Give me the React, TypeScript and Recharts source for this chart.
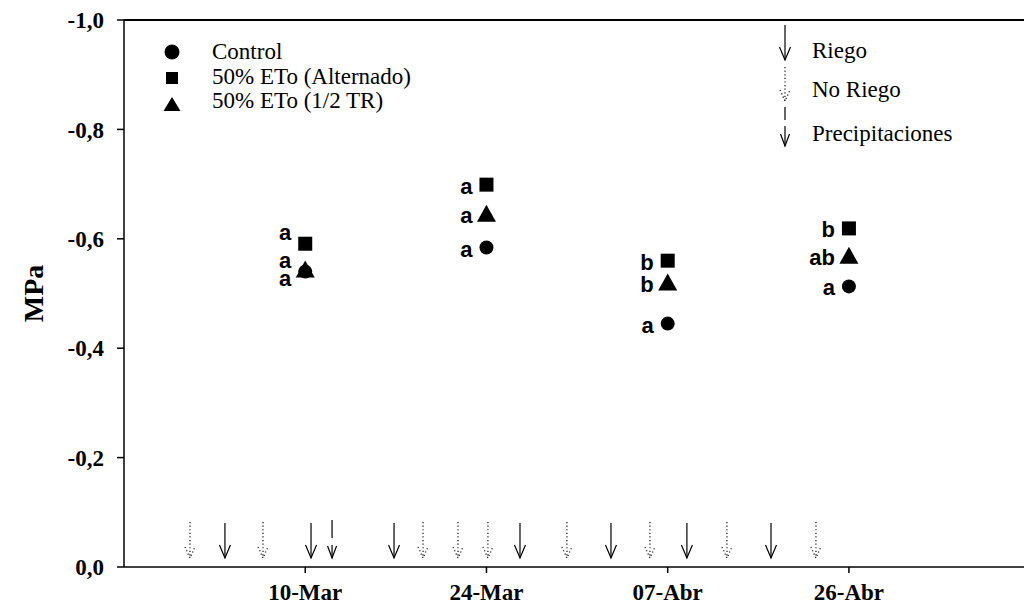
import { Legend, ReferenceLine, Scatter, ScatterChart, XAxis, YAxis } from 'recharts';

// fechas de muestreo (posición en el eje X)
const dates = ['10-Mar', '24-Mar', '07-Abr', '26-Abr'];
const datePos = [1, 2, 3, 4];

// potencial hídrico (MPa) por tratamiento
const control = [-0.54, -0.584, -0.445, -0.513];
const alternado = [-0.591, -0.699, -0.56, -0.619];
const halfTR = [-0.544, -0.646, -0.52, -0.569];

// letras de significancia
const controlLetters = ['a', 'a', 'a', 'a'];
const alternadoLetters = ['a', 'a', 'b', 'b'];
const halfTRLetters = ['a', 'a', 'b', 'ab'];

// eventos (flechas) sobre el eje X
const riegoPos = [0.557, 1.032, 1.49, 2.185, 2.687, 3.106, 3.57];
const noRiegoPos = [0.364, 0.767, 1.65, 1.843, 2.008, 2.444, 2.902, 3.327, 3.818];
const precipPos = [1.148];

const yTicks = [-1, -0.8, -0.6, -0.4, -0.2, 0];

// ajuste vertical de letras en la primera fecha (se superponen)
const LABEL_NUDGE: Record<string, number[]> = {
  control: [5, 0, 0, 0],
  alternado: [-13, 0, 0, 0],
  halfTR: [-10, 0, 0, 0],
};

const ARROW_Y = -0.0165;
const SERIF = "'Liberation Serif', 'Times New Roman', serif";
const SANS = "'Liberation Sans', Arial, sans-serif";

const build = (vals: number[], letters: string[], key: string) =>
  vals.map((y, i) => ({ x: datePos[i], y, letter: letters[i], nudge: LABEL_NUDGE[key][i] }));

const controlData = build(control, controlLetters, 'control');
const alternadoData = build(alternado, alternadoLetters, 'alternado');
const halfTRData = build(halfTR, halfTRLetters, 'halfTR');

const arrows = (pos: number[]) => pos.map((x) => ({ x, y: ARROW_Y }));

function Letter({ cx, cy, text, nudge }: any) {
  return (
    <text x={cx - 14} y={cy + 9 + nudge} textAnchor="end" fontFamily={SANS} fontWeight="bold" fontSize={22} fill="#000">
      {text}
    </text>
  );
}

function circleShape(props: any) {
  const { cx, cy, payload } = props;
  return (
    <g>
      <circle cx={cx} cy={cy} r={7} fill="#000" />
      <Letter cx={cx} cy={cy} text={payload.letter} nudge={payload.nudge} />
    </g>
  );
}

function squareShape(props: any) {
  const { cx, cy, payload } = props;
  return (
    <g>
      <rect x={cx - 7} y={cy - 7} width={14} height={14} fill="#000" />
      <Letter cx={cx} cy={cy} text={payload.letter} nudge={payload.nudge} />
    </g>
  );
}

function triangleShape(props: any) {
  const { cx, cy, payload } = props;
  return (
    <g>
      <polygon points={`${cx},${cy - 9} ${cx - 9.5},${cy + 8} ${cx + 9.5},${cy + 8}`} fill="#000" />
      <Letter cx={cx} cy={cy} text={payload.letter} nudge={payload.nudge} />
    </g>
  );
}

function SolidArrow({ cx, cy, len = 35 }: any) {
  return (
    <g stroke="#000" strokeWidth={1.2} fill="none">
      <line x1={cx} y1={cy - len} x2={cx} y2={cy} />
      <polyline points={`${cx - 5.5},${cy - 13} ${cx},${cy} ${cx + 5.5},${cy - 13}`} />
    </g>
  );
}

function DottedArrow({ cx, cy, len = 36 }: any) {
  return (
    <g stroke="#222" strokeWidth={1.3} fill="none" strokeDasharray="1.2 2.4">
      <line x1={cx} y1={cy - len} x2={cx} y2={cy} />
      <polyline points={`${cx - 5},${cy - 11} ${cx},${cy} ${cx + 5},${cy - 11}`} />
    </g>
  );
}

function DashedArrow({ cx, cy }: any) {
  return (
    <g stroke="#000" strokeWidth={1.2} fill="none">
      <line x1={cx} y1={cy - 38} x2={cx} y2={cy - 20} />
      <line x1={cx} y1={cy - 13} x2={cx} y2={cy} />
      <polyline points={`${cx - 4.5},${cy - 12} ${cx},${cy} ${cx + 4.5},${cy - 12}`} />
    </g>
  );
}

function LegendBox() {
  const txt = { fontFamily: SERIF, fontSize: 23, fill: '#000' };
  return (
    <svg width={1024} height={160} style={{ display: 'block' }}>
      <circle cx={172} cy={52} r={7.5} fill="#000" />
      <text x={212} y={59} {...txt}>Control</text>
      <rect x={166} y={72} width={12} height={12} fill="#000" />
      <text x={212} y={84} {...txt}>50% ETo (Alternado)</text>
      <polygon points="172,97 163.5,111 180.5,111" fill="#000" />
      <text x={212} y={108} {...txt}>50% ETo (1/2 TR)</text>

      <SolidArrow cx={785} cy={60} len={35} />
      <text x={812} y={58} {...txt}>Riego</text>
      <DottedArrow cx={785} cy={101} len={34} />
      <text x={812} y={97} {...txt}>No Riego</text>
      <g stroke="#000" strokeWidth={1.2} fill="none">
        <line x1={785} y1={107} x2={785} y2={120} />
        <line x1={785} y1={126} x2={785} y2={146} />
        <polyline points="780.5,134 785,146 789.5,134" />
      </g>
      <text x={812} y={141} {...txt}>Precipitaciones</text>
    </svg>
  );
}

const tickStyle = { fontFamily: SERIF, fontWeight: 'bold', fontSize: 23, fill: '#000' };

export default function App() {
  return (
    <div style={{ position: 'absolute', left: 0, top: 0, width: 1024, height: 616, background: '#fff' }}>
      <ScatterChart width={1024} height={616} margin={{ top: 20, right: 0, bottom: 9, left: 0 }}>
        <XAxis
          type="number"
          dataKey="x"
          domain={[0, 4.966]}
          allowDataOverflow
          ticks={datePos}
          tickFormatter={(v) => dates[datePos.indexOf(v)] ?? ''}
          height={40}
          tick={tickStyle}
          tickSize={6}
          tickMargin={11}
          axisLine={{ stroke: '#000', strokeWidth: 1.5 }}
          tickLine={{ stroke: '#000', strokeWidth: 1.5 }}
        />
        <YAxis
          type="number"
          dataKey="y"
          domain={[-1, 0]}
          reversed
          allowDataOverflow
          ticks={yTicks}
          interval={0}
          tickFormatter={(v) => Number(v).toFixed(1).replace('.', ',')}
          width={124}
          tick={tickStyle}
          tickSize={7}
          tickMargin={13}
          axisLine={{ stroke: '#000', strokeWidth: 1.5 }}
          tickLine={{ stroke: '#000', strokeWidth: 1.5 }}
          label={{
            value: 'MPa',
            angle: -90,
            position: 'insideLeft',
            offset: 33,
            style: { textAnchor: 'middle', fontFamily: SERIF, fontWeight: 'bold', fontSize: 28, fill: '#000' },
          }}
        />
        <ReferenceLine y={-1} stroke="#000" strokeWidth={2} />
        <Legend
          layout="horizontal"
          verticalAlign="middle"
          align="center"
          content={() => <LegendBox />}
          wrapperStyle={{ position: 'absolute', left: 0, top: 0, width: 1024, height: 160 }}
        />
        <Scatter name="Riego" data={arrows(riegoPos)} shape={(p: any) => <SolidArrow cx={p.cx} cy={p.cy} />} isAnimationActive={false} legendType="none" />
        <Scatter name="No Riego" data={arrows(noRiegoPos)} shape={(p: any) => <DottedArrow cx={p.cx} cy={p.cy} />} isAnimationActive={false} legendType="none" />
        <Scatter name="Precipitaciones" data={arrows(precipPos)} shape={(p: any) => <DashedArrow cx={p.cx} cy={p.cy} />} isAnimationActive={false} legendType="none" />
        <Scatter name="Control" data={controlData} shape={circleShape} isAnimationActive={false} />
        <Scatter name="50% ETo (Alternado)" data={alternadoData} shape={squareShape} isAnimationActive={false} />
        <Scatter name="50% ETo (1/2 TR)" data={halfTRData} shape={triangleShape} isAnimationActive={false} />
      </ScatterChart>
    </div>
  );
}
